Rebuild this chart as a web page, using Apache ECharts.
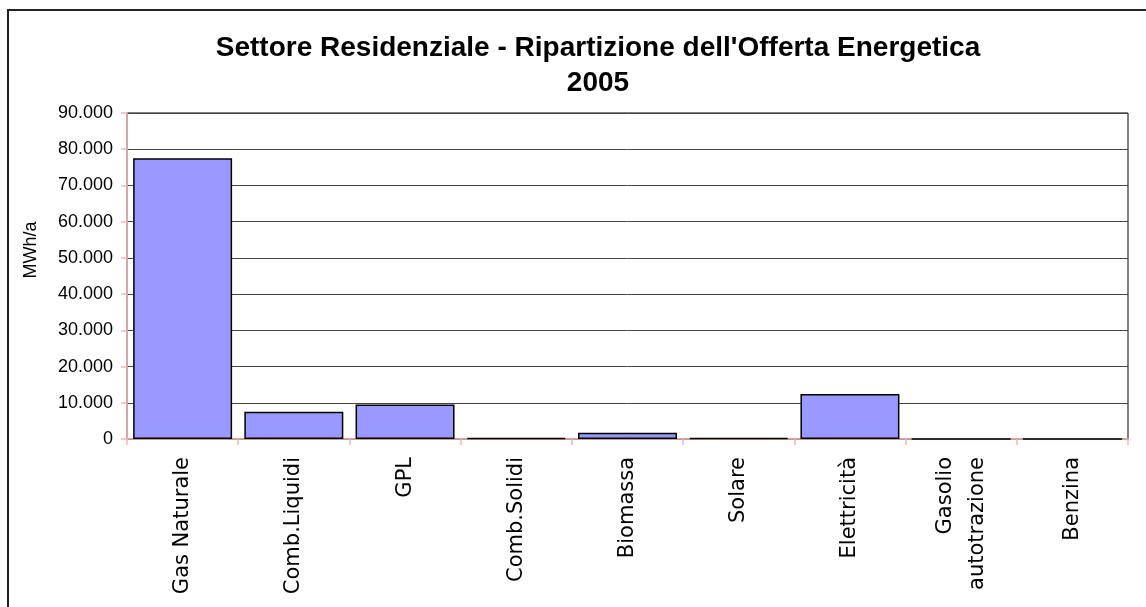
<!DOCTYPE html>
<html>
<head>
<meta charset="utf-8">
<script src="https://cdn.jsdelivr.net/npm/echarts@6/dist/echarts.min.js"></script>
<style>
  html, body { margin: 0; padding: 0; background: #fff; }
  #chart { width: 1146px; height: 607px; }
</style>
</head>
<body>
<div id="chart"></div>
<script>
// dati (MWh/a)
const categories = ['Gas Naturale', 'Comb.Liquidi', 'GPL', 'Comb.Solidi', 'Biomassa', 'Solare', 'Elettricità', 'Gasolio\nautotrazione', 'Benzina']
const values = [77500, 7500, 9500, 300, 1700, 300, 12400, 0, 0]
const titleLines = ["Settore Residenziale - Ripartizione dell'Offerta Energetica", '2005']
const yName = 'MWh/a'

// separatore migliaia con il punto
const fmt = (v) => String(v).replace(/\B(?=(\d{3})+(?!\d))/g, '.')

const chart = echarts.init(document.getElementById('chart'))

chart.setOption({
  animation: false,
  textStyle: { fontFamily: 'Liberation Sans, Arial, sans-serif', color: '#000' },
  graphic: [
    {
      type: 'rect',
      shape: { x: 8, y: 10, width: 1300, height: 800 },
      style: { fill: 'none', stroke: '#222', lineWidth: 2 }
    },
    {
      type: 'text',
      x: 31,
      y: 250,
      rotation: Math.PI / 2,
      style: {
        text: yName,
        fontSize: 18,
        fontFamily: 'Liberation Sans, Arial, sans-serif',
        fill: '#000',
        align: 'center',
        verticalAlign: 'middle'
      }
    }
  ],
  title: {
    text: titleLines.join('\n'),
    left: 598,
    top: 31,
    padding: 0,
    textAlign: 'center',
    textStyle: { fontSize: 28, fontWeight: 'bold', lineHeight: 35, color: '#000' }
  },
  grid: {
    left: 127,
    right: 18,
    top: 113,
    bottom: 168,
    show: true,
    borderColor: '#000',
    borderWidth: 1
  },
  xAxis: {
    type: 'category',
    data: categories,
    axisLine: { lineStyle: { color: '#f4b4b4', width: 1.5 } },
    axisTick: { show: true, length: 6, lineStyle: { color: '#f4b4b4', width: 1.5 } },
    axisLabel: {
      interval: 0,
      rotate: 90,
      margin: 18,
      fontSize: 21,
      fontFamily: 'DejaVu Sans, sans-serif',
      lineHeight: 32,
      color: '#000'
    }
  },
  yAxis: {
    type: 'value',
    min: 0,
    max: 90000,
    interval: 10000,
    axisLine: { show: true, lineStyle: { color: '#f4b4b4', width: 1.5 } },
    axisTick: { show: true, length: 6, lineStyle: { color: '#f4b4b4', width: 1.5 } },
    axisLabel: { fontSize: 18, margin: 14, color: '#000', formatter: fmt },
    splitLine: { lineStyle: { color: '#444', width: 1 } }
  },
  series: [
    {
      type: 'bar',
      data: values,
      barCategoryGap: '11%',
      itemStyle: { color: '#9999ff', borderColor: '#000', borderWidth: 1.5 }
    }
  ]
})
</script>
</body>
</html>
